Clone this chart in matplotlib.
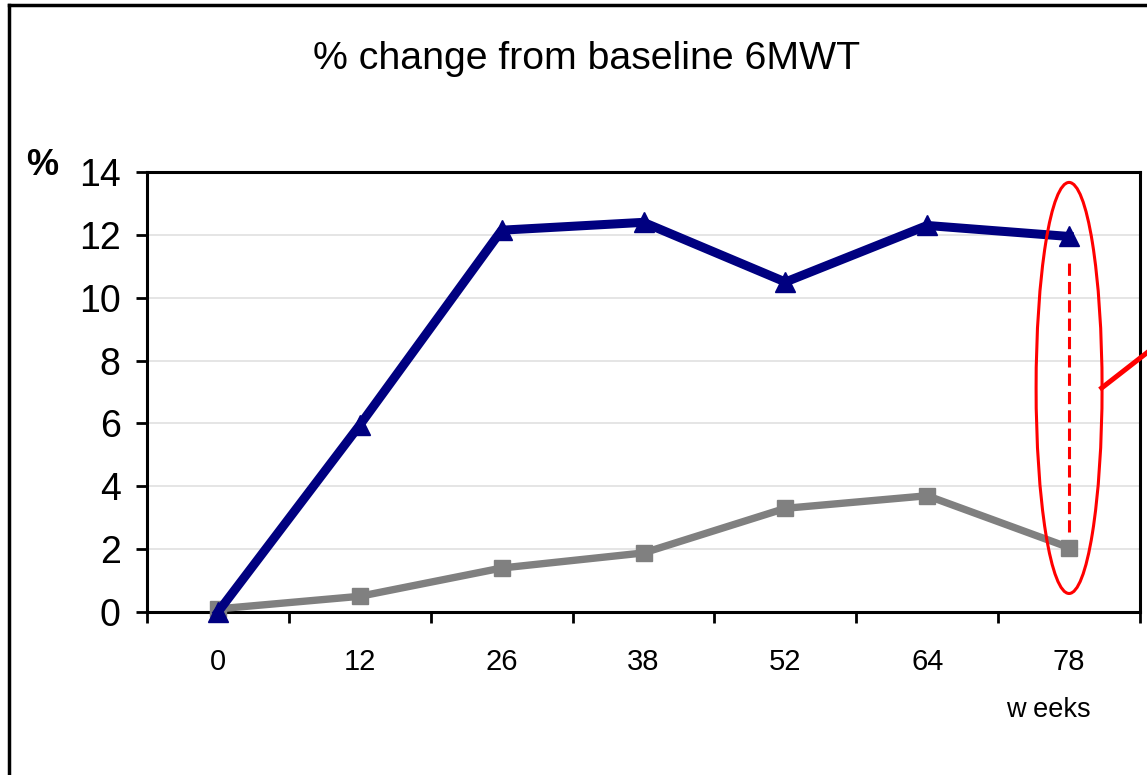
import matplotlib.pyplot as plt
from matplotlib.patches import Ellipse
from matplotlib.lines import Line2D
import numpy as np

plt.rcParams['font.family'] = ['Liberation Sans', 'DejaVu Sans']

weeks = ["0", "12", "26", "38", "52", "64", "78"]
treated = [0.0, 5.95, 12.15, 12.4, 10.5, 12.3, 11.95]
control = [0.1, 0.5, 1.4, 1.88, 3.3, 3.7, 2.05]
y_ticks = [0, 2, 4, 6, 8, 10, 12, 14]

fig = plt.figure(figsize=(11.47, 7.75), dpi=100)
ax = fig.add_axes([0.1282, 0.2103, 0.8657, 0.5677])

x = np.arange(len(weeks))

# grid lines
for yv in y_ticks[1:-1]:
    ax.axhline(yv, color='#e0e0e0', linewidth=1.2, zorder=0)

ax.plot(x, control, color='#808080', linewidth=5.3, marker='s', markersize=12,
        zorder=3, clip_on=False)
ax.plot(x, treated, color='#000080', linewidth=6.5, marker='^', markersize=14,
        zorder=4, clip_on=False)

ax.set_xlim(-0.5, len(weeks) - 0.5)
ax.set_ylim(0, 14)
ax.set_yticks(y_ticks)
ax.set_yticklabels([str(v) for v in y_ticks], fontsize=27)

ax.set_xticks(x)
ax.set_xticklabels(weeks, fontsize=21)
ax.set_xticks(np.arange(-0.5, len(weeks)), minor=True)
ax.tick_params(axis='x', which='major', length=0, pad=26)
ax.tick_params(axis='x', which='minor', length=8, width=2, direction='out')
ax.tick_params(axis='y', length=8, width=2, direction='out', pad=11)

for s in ax.spines.values():
    s.set_linewidth(2.2)
    s.set_color('black')

# highlight at week 78
last = len(weeks) - 1
ax.plot([last, last], [2.55, 11.15], color='red', linewidth=2.2,
        linestyle=(0, (4, 2)), zorder=5)
ell = Ellipse((last, 7.13), width=0.465, height=13.08, fill=False,
              edgecolor='red', linewidth=2.2, zorder=6, clip_on=False)
ax.add_patch(ell)
ax.plot([last + 0.23, last + 0.62], [7.13, 8.5], color='red', linewidth=3.6,
        zorder=6, clip_on=False)

fig.text(0.511, 0.924, "% change from baseline 6MWT", fontsize=28.3,
         ha='center', va='center')
fig.text(0.037, 0.786, "%", fontsize=26, fontweight='bold', ha='center',
         va='center')
fig.text(0.914, 0.084, "w eeks", fontsize=19.5, ha='center', va='center')

# outer frame (left and top edges)
fig.add_artist(Line2D([0.0075, 0.0075], [0.0, 0.9935], color='black',
                      linewidth=2.5, transform=fig.transFigure))
fig.add_artist(Line2D([0.0075, 1.0], [0.9935, 0.9935], color='black',
                      linewidth=2.5, transform=fig.transFigure))

fig.savefig("out.png", dpi=100)
